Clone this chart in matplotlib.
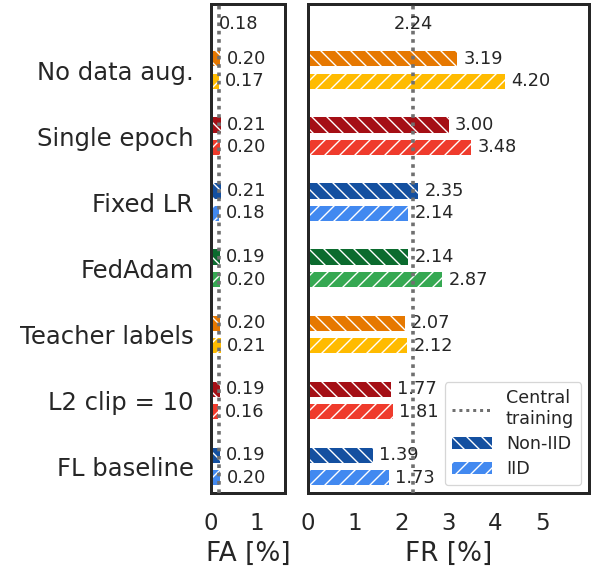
import matplotlib
matplotlib.use('Agg')
import matplotlib.pyplot as plt
from matplotlib.patches import Patch
from matplotlib.lines import Line2D
import numpy as np

methods = ['No data aug.', 'Single epoch', 'Fixed LR', 'FedAdam',
           'Teacher labels', 'L2 clip = 10', 'FL baseline']
fa_noniid = [0.20, 0.21, 0.21, 0.19, 0.20, 0.19, 0.19]
fa_iid = [0.17, 0.20, 0.18, 0.20, 0.21, 0.16, 0.20]
fr_noniid = [3.19, 3.00, 2.35, 2.14, 2.07, 1.77, 1.39]
fr_iid = [4.20, 3.48, 2.14, 2.87, 2.12, 1.81, 1.73]
central_fa = 0.18
central_fr = 2.24

dark_cols = ['#E67800', '#A50F15', '#1450A0', '#0B6B2E', '#E67800', '#A50F15', '#1450A0']
light_cols = ['#FFBB00', '#EF3B2C', '#4289F0', '#35A852', '#FFBB00', '#EF3B2C', '#4289F0']

txt = '#262626'
plt.rcParams['font.family'] = 'DejaVu Sans'
plt.rcParams['hatch.color'] = 'white'
plt.rcParams['hatch.linewidth'] = 1.1
plt.rcParams['text.color'] = txt

dpi = 90
fig = plt.figure(figsize=(591/dpi, 567/dpi), dpi=dpi)
axl = fig.add_axes([211/591, 1-493/567, 74/591, 489/567])
axr = fig.add_axes([308/591, 1-493/567, 281/591, 489/567])

y = np.arange(len(methods))
off = 0.17
h = 0.23


def draw(ax, noniid, iid, central, xmax, ticks, label, ha_c):
    for i in range(len(methods)):
        ax.barh(y[i]-off, noniid[i], height=h, color=dark_cols[i], hatch='\\\\',
                edgecolor='white', linewidth=0, zorder=2)
        ax.barh(y[i]+off, iid[i], height=h, color=light_cols[i], hatch='//',
                edgecolor='white', linewidth=0, zorder=2)
        ax.annotate('%.2f' % noniid[i], (noniid[i], y[i]-off), xytext=(5, 0),
                    textcoords='offset points', va='center', ha='left', fontsize=14.2)
        ax.annotate('%.2f' % iid[i], (iid[i], y[i]+off), xytext=(5, 0),
                    textcoords='offset points', va='center', ha='left', fontsize=14.2)
    ax.axvline(central, color='#707070', linestyle=(0, (1, 1.3)), linewidth=2.9, zorder=3)
    ax.text(central, -0.69, '%.2f' % central, ha=ha_c, va='center', fontsize=14.2)
    ax.set_xlim(0, xmax)
    ax.set_ylim(6.4, -1.0)
    ax.set_xticks(ticks)
    ax.tick_params(axis='x', length=0, pad=15, labelsize=18.3, labelcolor=txt)
    ax.set_xlabel(label, fontsize=21, labelpad=5, color=txt)
    for s in ax.spines.values():
        s.set_linewidth(2.4)
        s.set_color('#262626')


draw(axl, fa_noniid, fa_iid, central_fa, 1.6, [0, 1], 'FA [%]', 'left')
draw(axr, fr_noniid, fr_iid, central_fr, 6.0, [0, 1, 2, 3, 4, 5], 'FR [%]', 'center')

axl.set_yticks(y)
axl.set_yticklabels(methods)
axl.tick_params(axis='y', length=0, pad=14, labelsize=19.4, labelcolor=txt)
axr.set_yticks([])

handles = [Line2D([0], [0], color='#707070', linestyle=(0, (1, 1.3)), linewidth=2.4),
           Patch(facecolor='#1450A0', hatch='\\\\', edgecolor='white', linewidth=0),
           Patch(facecolor='#4289F0', hatch='//', edgecolor='white', linewidth=0)]
leg = axr.legend(handles, ['Central\ntraining', 'Non-IID', 'IID'], loc='lower right',
                 fontsize=14, frameon=True, fancybox=True, borderaxespad=0.45,
                 handlelength=2.3, labelspacing=0.4)
leg.get_frame().set_edgecolor('#cccccc')

fig.savefig('out.png', dpi=dpi)
